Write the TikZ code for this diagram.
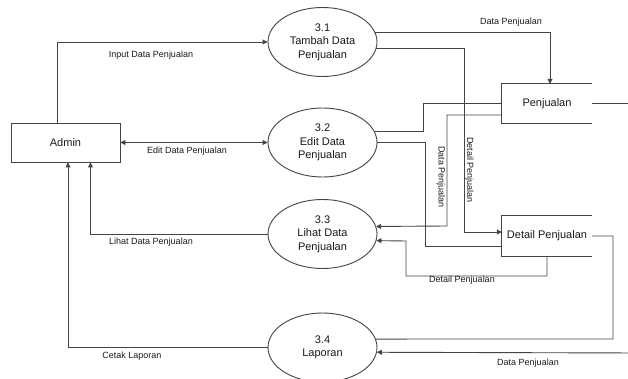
\documentclass[tikz,border=0pt]{standalone}
\usepackage{fontspec}
\setmainfont{Liberation Sans}
\usetikzlibrary{arrows.meta,shapes.geometric,calc}
\definecolor{ln}{HTML}{444444}
\definecolor{tx}{HTML}{1A1A1A}
\begin{document}
\begin{tikzpicture}[x=1pt,y=-1pt,
  flow/.style={draw=ln,line width=0.9pt},
  arr/.style={flow,-{Triangle[length=5pt,width=5pt]}},
  barr/.style={flow,{Triangle[length=5pt,width=5pt]}-{Triangle[length=5pt,width=5pt]}},
  proc/.style={ellipse,draw=ln,line width=0.9pt,minimum width=109pt,minimum height=69pt,inner sep=0pt,align=center,font=\fontsize{11}{13.5}\selectfont,text=tx},
  ent/.style={rectangle,draw=ln,line width=0.9pt,minimum width=109pt,minimum height=39pt,inner sep=0pt,font=\fontsize{11}{13}\selectfont,text=tx},
  store/.style={rectangle,minimum width=90pt,minimum height=39pt,inner sep=0pt,font=\fontsize{11}{13}\selectfont,text=tx},
  lbl/.style={font=\fontsize{9}{11}\selectfont,text=tx,inner sep=0pt}]
\useasboundingbox (0,0) rectangle (628,379);
\fill[white] (0,0) rectangle (628,379);
\clip (0,0) rectangle (628,379);

% entities and processes
\node[ent] (admin) at (65.5,142.5) {Admin};
\node[proc] (e31) at (322.5,42) {3.1\\Tambah Data\\Penjualan};
\node[proc] (e32) at (322.5,142.5) {3.2\\Edit Data\\Penjualan};
\node[proc] (e33) at (322.5,234) {3.3\\Lihat Data\\Penjualan};
\node[proc] (e34) at (322.5,347.5) {3.4\\Laporan};

% data stores
\node[store] (dsp) at (547,103.5) {Penjualan};
\draw[flow] (dsp.north east) -- (dsp.north west) -- (dsp.south west) -- (dsp.south east);
\node[store,minimum height=40pt] (dp) at (547,236) {Detail Penjualan};
\draw[flow] (dp.north east) -- (dp.north west) -- (dp.south west) -- (dp.south east);

% admin flows
\draw[arr] ([xshift=-8.5pt]admin.north) |- (e31.west);
\draw[barr] (admin.east) -- (e32.west);
\draw[arr] (e33.west) -| ([xshift=25pt]admin.south);
\draw[arr] (e34.west) -| ([xshift=2.5pt]admin.south);

% store flows
\draw[arr] (e31.10.85) -| ([xshift=3pt]dsp.north);
\draw[arr] (e31.-7.47) -| (464,232) -- ([yshift=4pt]dp.west);
\draw[flow] (e32.12) -| (423,103.5) -- (dsp.west);
\draw[flow] (e32.east) -| (425,246) -- ([yshift=-10pt]dp.west);
\draw[arr] ([yshift=-11.5pt]dsp.west) -| (447,226) -- (e33.8.58);
\draw[arr] (dp.south) -- (547,276) -| (406,241) -- (e33.-7.47);
\draw[flow] (dp.east) -| (613,339) -- (e34.9.15);
\draw[arr] (dsp.east) -| (640,353) -- (e34.-5.84);

% labels
\node[lbl] (l1) at (151,55) {Input Data Penjualan};
\node[lbl] (l2) at (187,151) {Edit Data Penjualan};
\node[lbl] (l3) at (151,242) {Lihat Data Penjualan};
\node[lbl] (l4) at (132,356) {Cetak Laporan};
\node[lbl] (l5) at (511,22) {Data Penjualan};
\node[lbl,rotate=-90] (l6) at (469.5,170) {Detail Penjualan};
\node[lbl,rotate=-90] (l7) at (441,177) {Data Penjualan};
\node[lbl] (l8) at (462,280) {Detail Penjualan};
\node[lbl] (l9) at (528,363) {Data Penjualan};
\end{tikzpicture}
\end{document}
